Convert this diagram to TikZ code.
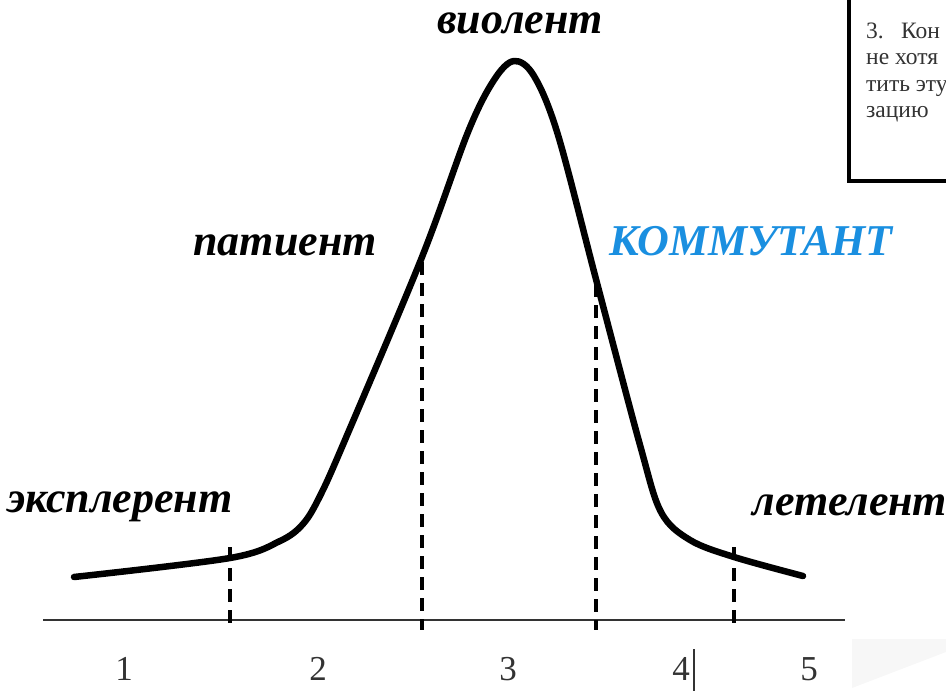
\documentclass[tikz,border=0pt]{standalone}
\usepackage{fontspec}
\setmainfont{Liberation Serif}
\definecolor{kblue}{HTML}{1A8FE0}
\definecolor{dgray}{HTML}{333333}
\begin{document}
\begin{tikzpicture}[x=1pt,y=-1pt,
  lbl/.style={font=\fontsize{44}{50}\selectfont\bfseries\itshape, anchor=base, inner sep=0pt},
  num/.style={font=\fontsize{35}{40}\selectfont, text=dgray, anchor=base, inner sep=0pt},
  boxtxt/.style={font=\fontsize{23.5}{26}\selectfont, text=dgray, anchor=base west, inner sep=0pt},
  guide/.style={line width=3.5pt, dash pattern=on 13pt off 8pt},
  curve/.style={line width=6.5pt, line join=round, line cap=round}]
\useasboundingbox (0,0) rectangle (946,691);
% faint page shadow
\fill[black!3] (852,639) -- (946,639) -- (946,652) -- (852,688) -- cycle;
% axis
\coordinate (axL) at (43,620);
\coordinate (axR) at (845,620);
\draw[line width=2pt, black!80] (axL) -- (axR);
% dashed guides
\coordinate (g1t) at (230,547); \coordinate (g1b) at (230,627);
\coordinate (g2t) at (422,262); \coordinate (g2b) at (422,630);
\coordinate (g3t) at (596,284); \coordinate (g3b) at (596,630);
\coordinate (g4t) at (734,547); \coordinate (g4b) at (734,627);
\draw[guide] (g1t) -- (g1b);
\draw[guide] (g2t) -- (g2b);
\draw[guide] (g3t) -- (g3b);
\draw[guide] (g4t) -- (g4b);
% curve
\draw[curve] plot[smooth, tension=0.55] coordinates {
 (74,577) (230,558) (280,541) (303,524) (320,496) (345,440) (422,257)
 (468,132) (494,80) (514,61) (534,76) (558,135) (597,283)
 (640,445) (661,512) (690,540) (734,557) (803,576)};
% labels
\node[lbl] (expl) at (120,512) {эксплерент};
\node[lbl] (viol) at (520,33) {виолент};
\node[lbl] (pat) at (285,255) {патиент};
\node[lbl, text=kblue] (komm) at (751,255) {КОММУТАНТ};
\node[lbl] (let) at (850,515) {летелент};
% numbers
\node[num] (n1) at (124,680) {1};
\node[num] (n2) at (318,680) {2};
\node[num] (n3) at (508,680) {3};
\node[num] (n4) at (681,680) {4};
\node[num] (n5) at (809,680) {5};
\coordinate (bart) at (694,649); \coordinate (barb) at (694,691);
\draw[line width=1.3pt, dgray] (bart) -- (barb);
% clipped box top right
\begin{scope}
\clip (0,0) rectangle (946,691);
\draw[line width=3.5pt, fill=white] (849,-10) rectangle (980,181);
\node[boxtxt] (b1) at (866,38) {3.};
\node[boxtxt] (b1b) at (901,38) {Кон};
\node[boxtxt] (b2) at (866,64) {не хотя};
\node[boxtxt] (b3) at (866,91) {тить эту};
\node[boxtxt] (b4) at (866,117) {зацию};
\end{scope}
\end{tikzpicture}
\end{document}
